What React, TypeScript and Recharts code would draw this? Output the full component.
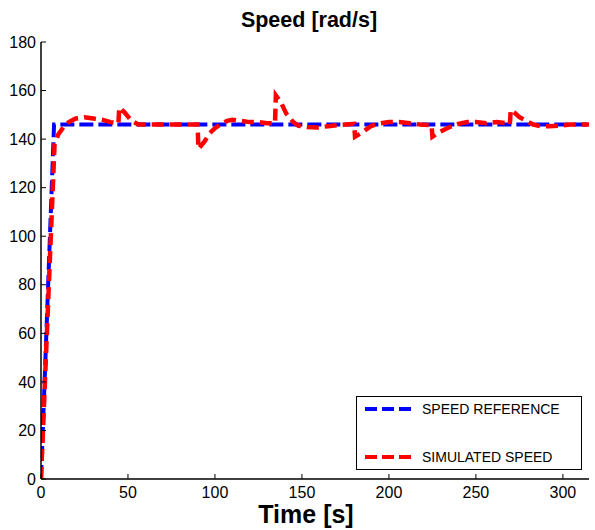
import { LineChart, Line, XAxis, YAxis, Legend } from "recharts";

const FONT = '"Liberation Sans", Arial, Helvetica, sans-serif';

// speed reference (ramp then constant)
const refTime = [0, 7.5, 315];
const refSpeed = [0, 146, 146];

// simulated speed
const simTime = [
  0, 7.8, 10, 13, 16, 20, 25, 30, 35, 40, 44.5, 45, 48, 52, 56, 60, 70, 80, 90,
  90.5, 94, 97, 100, 103, 107, 110, 115, 120, 125, 130, 134.5, 135, 138, 141,
  145, 148, 153, 159, 165, 170, 175, 180, 180.5, 184, 187, 190, 195, 200, 206,
  212, 218, 224.5, 225, 228, 232, 236, 240, 245, 250, 256, 262, 268, 269.5, 270,
  272, 275, 279, 283, 287, 292, 298, 304, 310, 315,
];
const simSpeed = [
  0, 138, 142, 145, 147, 148.5, 149, 148.5, 148, 147, 146.5, 153, 151, 147.5,
  146, 146, 146, 146, 146, 136, 139, 142.5, 144.5, 146, 147.5, 148, 147.5, 147,
  147, 146.5, 146.5, 158, 155, 150.5, 147, 145.5, 145, 144.8, 145.3, 145.7, 146,
  146.3, 141, 142.5, 144, 145.5, 146.5, 147, 147, 146.5, 146, 145.7, 141, 142.5,
  144, 145.3, 146.3, 147, 147, 146.5, 147, 146.5, 146, 152, 151, 149, 147.5, 146,
  145.3, 145.3, 145.5, 146, 146, 146,
];

const seriesNames = ["SPEED REFERENCE", "SIMULATED SPEED"];
const xTicks = [0, 50, 100, 150, 200, 250, 300];
const yTicks = [0, 20, 40, 60, 80, 100, 120, 140, 160, 180];

const refData = refTime.map((t, i) => ({ t, v: refSpeed[i] }));
const simData = simTime.map((t, i) => ({ t, v: simSpeed[i] }));

const tickStyle = { fill: "#000", fontSize: 16, fontFamily: FONT };
const axisLine = { stroke: "#000", strokeWidth: 1.5 };
const tickLine = { stroke: "#000", strokeWidth: 1 };

function LegendBox(props: any) {
  const items = [...(props.payload || [])].sort(
    (a: any, b: any) => seriesNames.indexOf(a.value) - seriesNames.indexOf(b.value)
  );
  return (
    <div
      style={{
        width: 226,
        height: 74,
        border: "1.5px solid #000",
        background: "#fff",
        boxSizing: "border-box",
        position: "relative",
        fontFamily: FONT,
        fontSize: 14,
        color: "#000",
      }}
    >
      {items.map((p: any, i: number) => (
        <div
          key={i}
          style={{
            position: "absolute",
            left: 8,
            top: i === 0 ? 4 : 52,
            height: 16,
            display: "flex",
            alignItems: "center",
            whiteSpace: "nowrap",
          }}
        >
          <svg width={48} height={8}>
            <line x1={0} y1={4} x2={48} y2={4} stroke={p.color} strokeWidth={4} strokeDasharray="12 5" />
          </svg>
          <span style={{ marginLeft: 9 }}>{p.value}</span>
        </div>
      ))}
    </div>
  );
}

export default function App() {
  return (
    <div style={{ position: "absolute", left: 0, top: 0, width: 595, height: 530, background: "#fff", overflow: "hidden" }}>
      <div
        style={{
          position: "absolute",
          left: 0,
          width: 618,
          top: 10,
          textAlign: "center",
          fontFamily: FONT,
          fontWeight: "bold",
          fontSize: 21.5,
          lineHeight: "21px",
        }}
      >
        Speed [rad/s]
      </div>
      <LineChart width={595} height={530} margin={{ top: 42, right: 6, bottom: 0, left: 0 }}>
        <XAxis
          dataKey="t"
          type="number"
          domain={[0, 315]}
          ticks={xTicks}
          height={51}
          tickSize={-5}
          tickMargin={13}
          tick={tickStyle}
          axisLine={axisLine}
          tickLine={tickLine}
          allowDataOverflow
        />
        <XAxis
          xAxisId="top"
          orientation="top"
          type="number"
          domain={[0, 315]}
          ticks={xTicks}
          height={0}
          tickSize={-5}
          tickFormatter={() => ""}
          axisLine={axisLine}
          tickLine={tickLine}
        />
        <YAxis
          type="number"
          domain={[0, 180]}
          ticks={yTicks}
          width={41}
          tickSize={-5}
          tickMargin={10}
          tick={tickStyle}
          axisLine={axisLine}
          tickLine={tickLine}
        />
        <YAxis
          yAxisId="right"
          orientation="right"
          type="number"
          domain={[0, 180]}
          ticks={yTicks}
          width={0}
          tickSize={-5}
          tickFormatter={() => ""}
          axisLine={axisLine}
          tickLine={tickLine}
        />
        <Line
          data={refData}
          dataKey="v"
          name={seriesNames[0]}
          type="linear"
          stroke="#0000ff"
          strokeWidth={4}
          strokeDasharray="14 5"
          dot={false}
          activeDot={false}
          isAnimationActive={false}
        />
        <Line
          data={simData}
          dataKey="v"
          name={seriesNames[1]}
          type="linear"
          stroke="#ff0000"
          strokeWidth={4.5}
          strokeDasharray="12 6"
          dot={false}
          activeDot={false}
          isAnimationActive={false}
        />
        <Legend
          layout="vertical"
          align="center"
          verticalAlign="middle"
          content={<LegendBox />}
          wrapperStyle={{ position: "absolute", left: 356, top: 396, width: 226, height: 74 }}
        />
      </LineChart>
      <div
        style={{
          position: "absolute",
          left: 0,
          width: 612,
          top: 502,
          textAlign: "center",
          fontFamily: FONT,
          fontWeight: "bold",
          fontSize: 25,
          lineHeight: "25px",
          whiteSpace: "nowrap",
        }}
      >
        Time [s]
      </div>
    </div>
  );
}
